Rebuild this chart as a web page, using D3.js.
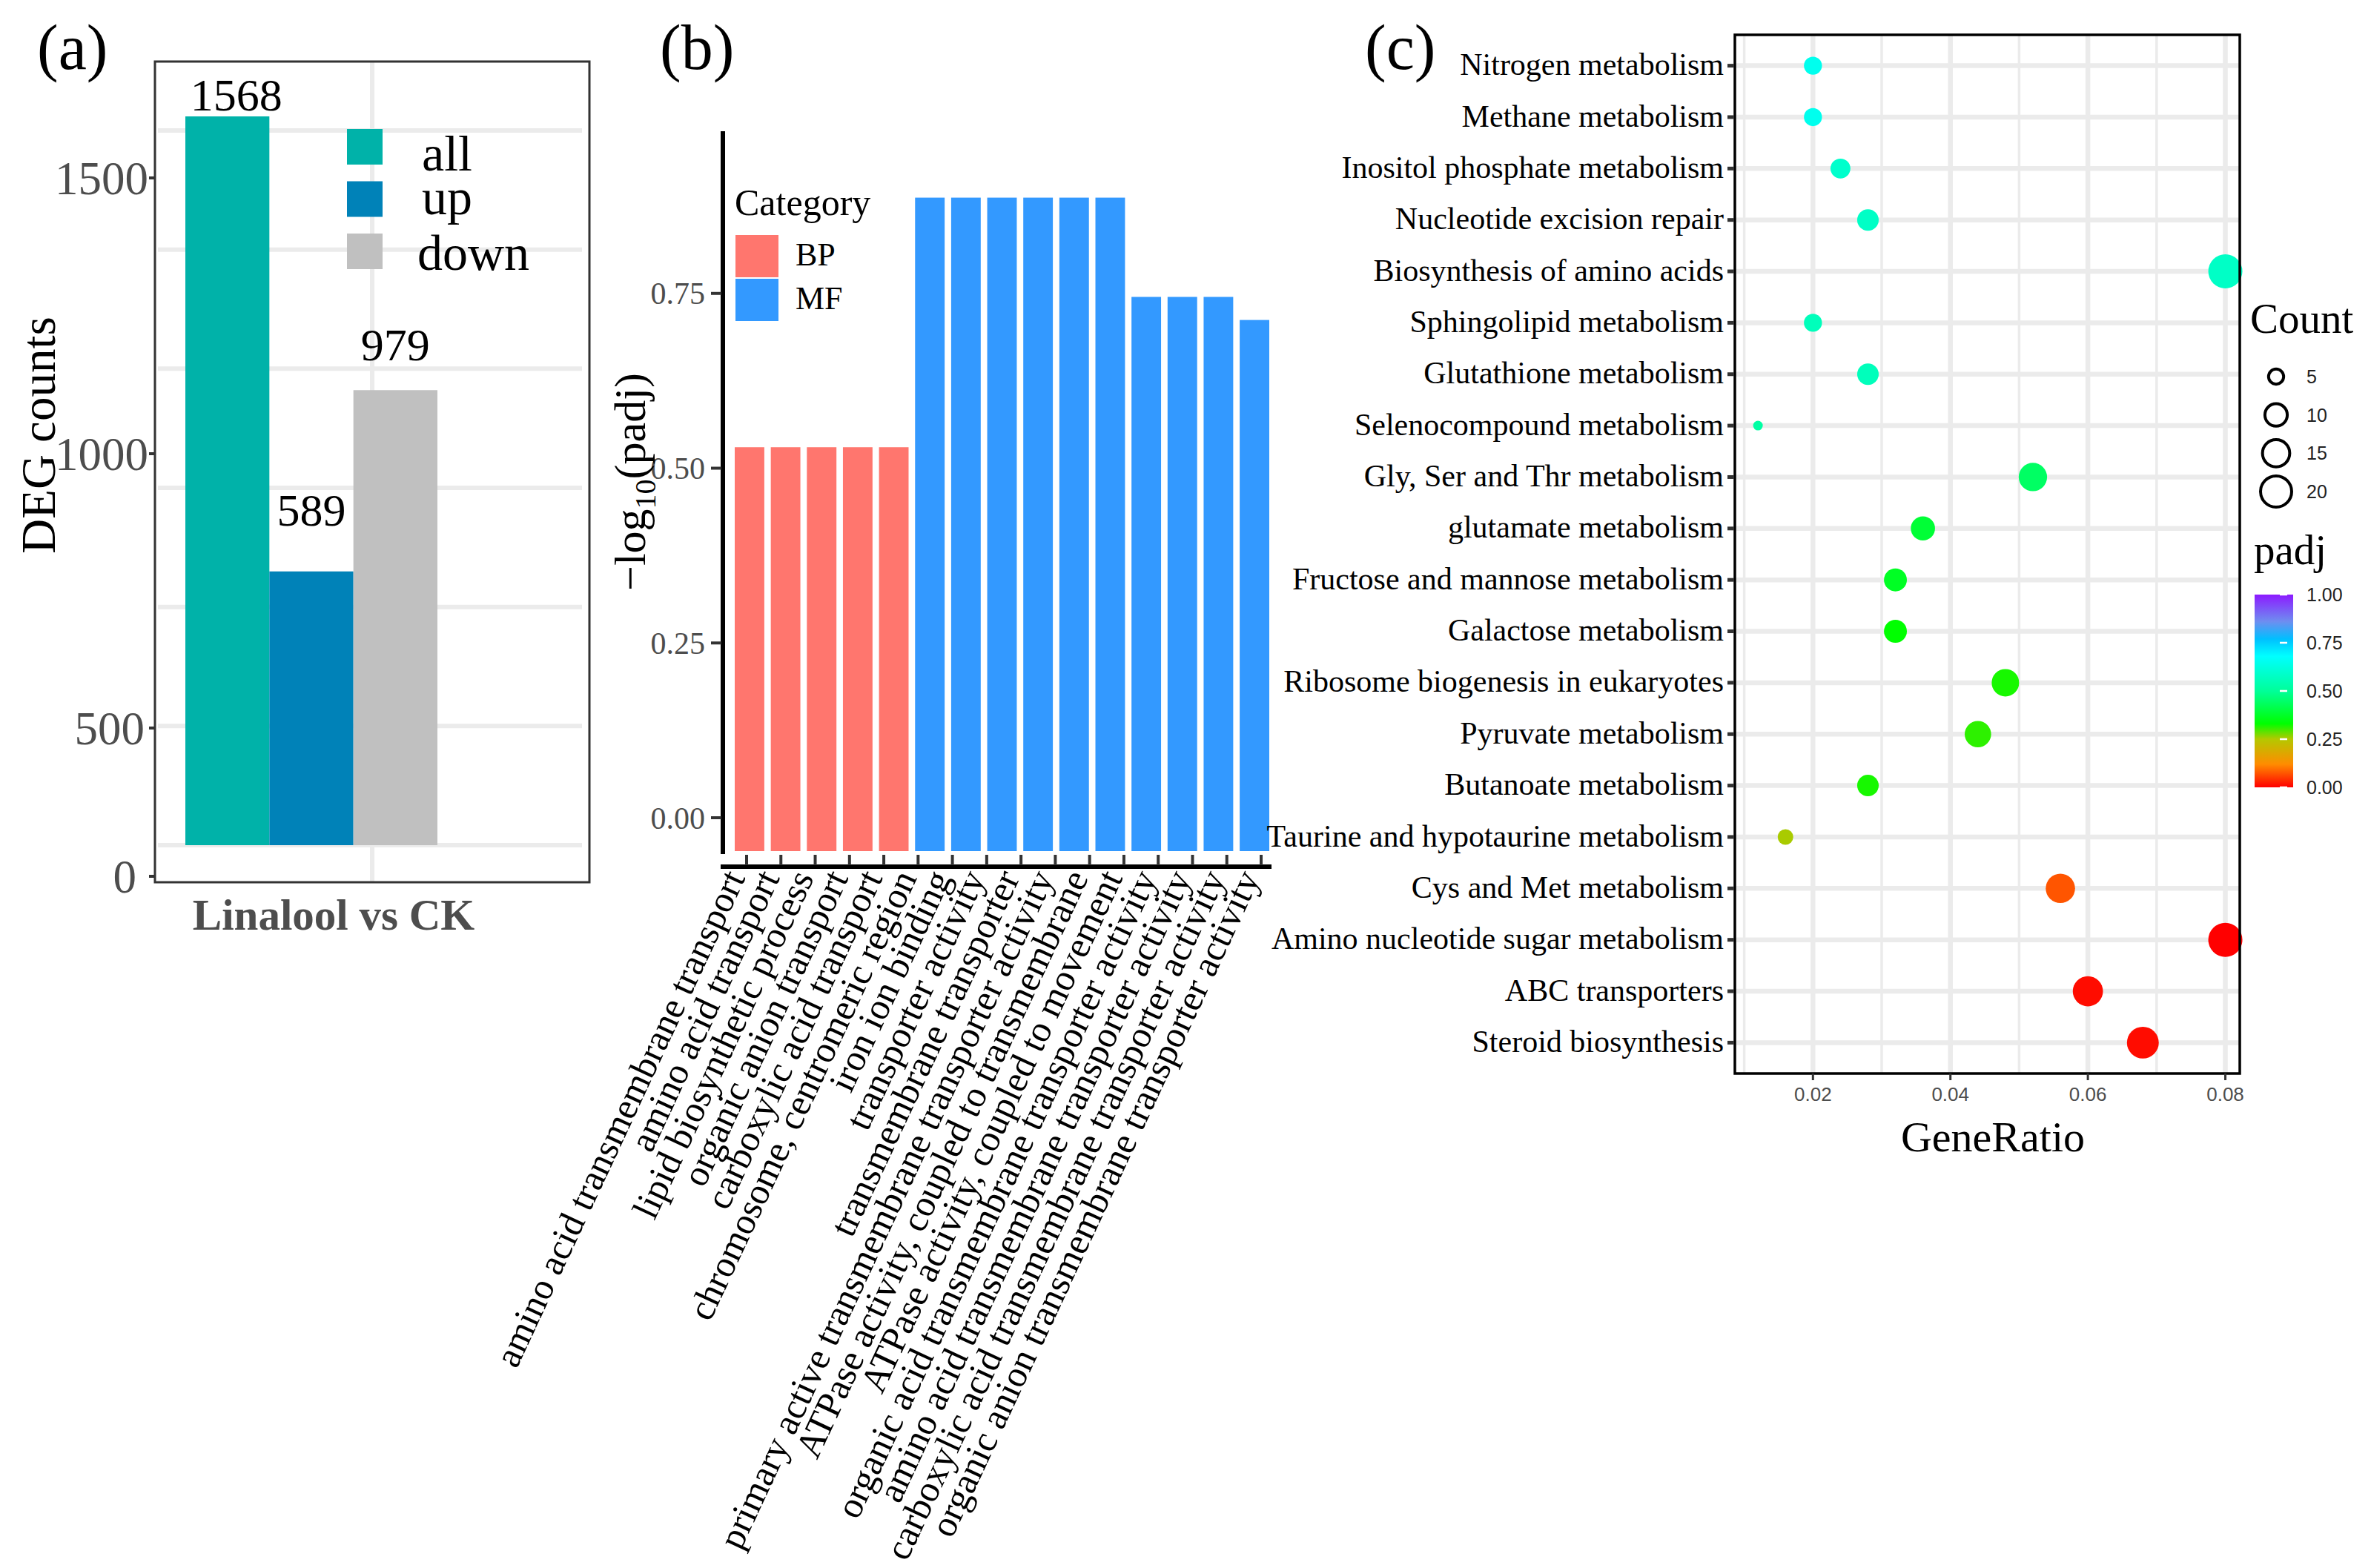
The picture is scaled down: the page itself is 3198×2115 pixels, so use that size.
<!DOCTYPE html>
<html><head><meta charset="utf-8">
<script src="https://cdn.jsdelivr.net/npm/d3@7/dist/d3.min.js"></script>
<style>html,body{margin:0;padding:0;background:#fff;} svg{display:block;}</style>
</head><body>
<svg id="chart" width="3198" height="2115"></svg>
<script>
// ================= DATA =================
// Panel (a)
const degGroups = ["all", "up", "down"];
const degCounts = [1568, 589, 979];
const degCategory = ["Linalool vs CK"];
const degTicks = [0, 500, 1000, 1500];

// Panel (b)
const goTerms = [
  "amino acid transmembrane transport",
  "amino acid transport",
  "lipid biosynthetic process",
  "organic anion transport",
  "carboxylic acid transport",
  "chromosome, centromeric region",
  "iron ion binding",
  "transporter activity",
  "transmembrane transporter",
  "primary active transmembrane transporter activity",
  "ATPase activity, coupled to transmembrane",
  "ATPase activity, coupled to movement",
  "organic acid transmembrane transporter activity",
  "amino acid transmembrane transporter activity",
  "carboxylic acid transmembrane transporter activity",
  "organic anion transmembrane transporter activity"
];
const goCategory = ["BP","BP","BP","BP","BP","", "MF","MF","MF","MF","MF","MF","MF","MF","MF","MF"];
const goValues = [0.53,0.53,0.53,0.53,0.53,null,0.887,0.887,0.887,0.887,0.887,0.887,0.745,0.745,0.745,0.712];
const goTicks = [0, 0.25, 0.5, 0.75];
const goLegend = ["BP", "MF"];

// Panel (c)
const keggPathways = [
  "Nitrogen metabolism","Methane metabolism","Inositol phosphate metabolism","Nucleotide excision repair",
  "Biosynthesis of amino acids","Sphingolipid metabolism","Glutathione metabolism","Selenocompound metabolism",
  "Gly, Ser and Thr metabolism","glutamate metabolism","Fructose and mannose metabolism","Galactose metabolism",
  "Ribosome biogenesis in eukaryotes","Pyruvate metabolism","Butanoate metabolism","Taurine and hypotaurine metabolism",
  "Cys and Met metabolism","Amino nucleotide sugar metabolism","ABC transporters","Steroid biosynthesis"
];
const keggGeneRatio = [0.020,0.020,0.024,0.028,0.080,0.020,0.028,0.012,0.052,0.036,0.032,0.032,0.048,0.044,0.028,0.016,0.056,0.080,0.060,0.068];
const keggCount =     [5,5,6,7,20,5,7,3,13,9,8,8,12,11,7,4,14,20,15,17];
const keggPadj =      [0.65,0.65,0.59,0.58,0.58,0.56,0.56,0.52,0.44,0.39,0.37,0.33,0.32,0.31,0.32,0.255,0.073,0.0,0.01,0.01];
const ratioTicks = [0.02, 0.04, 0.06, 0.08];
const ratioMinor = [0.01, 0.03, 0.05, 0.07];
const countLegend = [5, 10, 15, 20];
const padjTicks = [0, 0.25, 0.5, 0.75, 1];

// ================= STYLE =================
const SERIF = "'Liberation Serif','Times New Roman',serif";
const SANS = "'Liberation Sans',Arial,sans-serif";
const GRID = "#EBEBEB";
const AXIS_TXT = "#4D4D4D";
const degPalette = {all: "#00B2A9", up: "#0082B8", down: "#C0C0C0"};
const goPalette = {BP: "#FF766E", MF: "#3399FF"};
const padjStops = [[0,"#FF0000"],[0.12,"#FF8C00"],[0.25,"#B4C800"],[0.33,"#00FF00"],[0.5,"#00FF99"],[0.68,"#00FFFF"],[0.77,"#00BFFF"],[0.86,"#6E8EF0"],[1,"#8C1AFF"]];

const svg = d3.select("#chart");
svg.append("rect").attr("width",3198).attr("height",2115).attr("fill","#fff");

// panel tags
[["(a)",50],["(b)",890],["(c)",1841]].forEach(([t,x]) => {
  svg.append("text").attr("x",x).attr("y",93).attr("font-family",SERIF).attr("font-size",86).attr("fill","#000").text(t);
});

// ================= PANEL A =================
(function(){
  const g = svg.append("g");
  const frame = {x0:209, x1:795, y0:83, y1:1190};
  const gridY = d3.scaleLinear().domain([0,1500]).range([1140,176]);
  g.selectAll(".hg").data(d3.range(0,1501,250)).join("line")
    .attr("x1",213).attr("x2",785).attr("y1",d=>gridY(d)).attr("y2",d=>gridY(d))
    .attr("stroke",GRID).attr("stroke-width",6);
  const xCat = d3.scaleBand().domain(degCategory).range([frame.x0, frame.x1]);
  g.selectAll(".vg").data(degCategory).join("line")
    .attr("x1",d=>xCat(d)+xCat.bandwidth()/2).attr("x2",d=>xCat(d)+xCat.bandwidth()/2)
    .attr("y1",frame.y0).attr("y2",frame.y1).attr("stroke",GRID).attr("stroke-width",6);

  const xSub = d3.scaleBand().domain(degGroups).range([250,590]);
  const yBar = d3.scaleLinear().domain([0,1568]).range([1140,157]);
  const yLab = d3.scaleLinear().domain([589,1568]).range([709,149]);
  const data = degGroups.map((k,i)=>({k, v:degCounts[i]}));
  g.selectAll(".bar").data(data).join("rect")
    .attr("x",d=>xSub(d.k)).attr("width",xSub.bandwidth())
    .attr("y",d=>yBar(d.v)).attr("height",d=>yBar(0)-yBar(d.v))
    .attr("fill",d=>degPalette[d.k]);
  g.selectAll(".vlab").data(data).join("text")
    .attr("x",d=>xSub(d.k)+xSub.bandwidth()/2 + (d.k==="all"?12:0)).attr("y",d=>yLab(d.v))
    .attr("text-anchor","middle").attr("font-family",SERIF).attr("font-size",62).attr("fill","#000")
    .text(d=>d.v);

  g.append("rect").attr("x",frame.x0).attr("y",frame.y0).attr("width",frame.x1-frame.x0).attr("height",frame.y1-frame.y0)
    .attr("fill","none").attr("stroke","#333").attr("stroke-width",3);

  const yAx = d3.scaleLinear().domain(degTicks).range([1182,982,612,240]);
  g.selectAll(".tk").data(degTicks).join("line")
    .attr("x1",201).attr("x2",209).attr("y1",d=>yAx(d)).attr("y2",d=>yAx(d)).attr("stroke","#333").attr("stroke-width",4);
  g.selectAll(".tl").data(degTicks).join("text")
    .attr("x",d=>d===0?184:(d===500?195:200)).attr("y",d=>yAx(d)).attr("dy","0.35em").attr("text-anchor","end")
    .attr("font-family",SERIF).attr("font-size",63).attr("fill",AXIS_TXT).text(d=>d);

  g.append("text").attr("transform","translate(74,587) rotate(-90)").attr("text-anchor","middle")
    .attr("font-family",SERIF).attr("font-size",65).attr("fill","#000").text("DEG counts");
  g.selectAll(".xl").data(degCategory).join("text")
    .attr("x",d=>xCat(d)+xCat.bandwidth()/2-52).attr("y",1254).attr("text-anchor","middle")
    .attr("font-family",SERIF).attr("font-weight","bold").attr("font-size",59).attr("fill",AXIS_TXT).text(d=>d);

  // legend
  const yKey = d3.scalePoint().domain(degGroups).range([198,339]);
  g.selectAll(".lk").data(degGroups).join("rect")
    .attr("x",468).attr("y",d=>yKey(d)-24).attr("width",48).attr("height",48).attr("fill",d=>degPalette[d]);
  g.selectAll(".ll").data(degGroups).join("text")
    .attr("x",d=>d==="down"?563:569).attr("y",d=>yKey(d)+ (d==="all"?32:(d==="up"?20:25)))
    .attr("font-family",SERIF).attr("font-size",68).attr("fill","#000").text(d=>d);
})();

// ================= PANEL B =================
(function(){
  const g = svg.append("g");
  const y = d3.scaleLinear().domain([-0.0477,0.982]).range([1148,177]);
  const barTerms = goTerms.filter((t,i)=>goValues[i]!==null);
  const xBar = d3.scaleBand().domain(barTerms).range([991,1712]).paddingInner(0.18);
  const xTick = d3.scalePoint().domain(goTerms).range([1007,1701]);
  const data = goTerms.map((t,i)=>({t, c:goCategory[i], v:goValues[i]})).filter(d=>d.v!==null);
  g.selectAll(".bar").data(data).join("rect")
    .attr("x",d=>xBar(d.t)).attr("width",xBar.bandwidth())
    .attr("y",d=>y(d.v)).attr("height",d=>y.range()[0]-y(d.v))
    .attr("fill",d=>goPalette[d.c]);

  // axes lines
  g.append("line").attr("x1",975).attr("x2",975).attr("y1",177).attr("y2",1152).attr("stroke","#000").attr("stroke-width",6);
  g.append("line").attr("x1",972).attr("x2",1715).attr("y1",1169).attr("y2",1169).attr("stroke","#000").attr("stroke-width",6);
  g.selectAll(".yt").data(goTicks).join("line")
    .attr("x1",959).attr("x2",973).attr("y1",d=>y(d)).attr("y2",d=>y(d)).attr("stroke","#333").attr("stroke-width",4);
  g.selectAll(".ytl").data(goTicks).join("text")
    .attr("x",951).attr("y",d=>y(d)).attr("dy","0.35em").attr("text-anchor","end")
    .attr("font-family",SERIF).attr("font-size",42).attr("fill",AXIS_TXT).text(d=>d3.format(".2f")(d));
  g.selectAll(".xt").data(goTerms).join("line")
    .attr("x1",d=>xTick(d)).attr("x2",d=>xTick(d)).attr("y1",1153).attr("y2",1167).attr("stroke","#333").attr("stroke-width",4);
  g.selectAll(".xtl").data(goTerms).join("text")
    .attr("transform",d=>`translate(${xTick(d)-1},1184) rotate(-65)`)
    .attr("text-anchor","end").attr("font-family",SERIF).attr("font-size",50).attr("fill","#000").text(d=>d);

  const yt = g.append("text").attr("transform","translate(870,650) rotate(-90)").attr("text-anchor","middle")
    .attr("font-family",SERIF).attr("font-size",60).attr("fill","#000");
  yt.append("tspan").text("\u2212log");
  yt.append("tspan").attr("font-size",40).attr("dy",14).text("10");
  yt.append("tspan").attr("dy",-14).text("(padj)");

  // legend
  g.append("text").attr("x",991).attr("y",290).attr("font-family",SERIF).attr("font-size",50).attr("fill","#000").text("Category");
  const yk = d3.scalePoint().domain(goLegend).range([346,405]);
  g.selectAll(".lk").data(goLegend).join("rect")
    .attr("x",992).attr("y",d=>yk(d)-29).attr("width",58).attr("height",57).attr("fill",d=>goPalette[d]);
  g.selectAll(".ll").data(goLegend).join("text")
    .attr("x",1073).attr("y",d=>yk(d)+12).attr("font-family",SERIF).attr("font-size",44).attr("fill","#000").text(d=>d);
})();

// ================= PANEL C =================
(function(){
  const g = svg.append("g");
  const fr = {x0:2340, x1:3021, y0:47, y1:1448};
  const x = d3.scaleLinear().domain([0.00864,0.0821]).range([fr.x0, fr.x1]);
  const y = d3.scalePoint().domain(keggPathways).range([fr.y0, fr.y1]).padding(0.6);
  const cMin = d3.min(keggCount), cMax = d3.max(keggCount);
  const rLin = d3.scaleLinear().domain([0,1]).range([6.5,23]);
  const r = c => rLin(Math.sqrt((c-cMin)/(cMax-cMin)));
  const color = d3.scaleLinear().domain(padjStops.map(s=>s[0])).range(padjStops.map(s=>s[1])).interpolate(d3.interpolateRgb);

  g.selectAll(".mg").data(ratioMinor).join("line")
    .attr("x1",d=>x(d)).attr("x2",d=>x(d)).attr("y1",fr.y0).attr("y2",fr.y1).attr("stroke",GRID).attr("stroke-width",3.5);
  g.selectAll(".Mg").data(ratioTicks).join("line")
    .attr("x1",d=>x(d)).attr("x2",d=>x(d)).attr("y1",fr.y0).attr("y2",fr.y1).attr("stroke",GRID).attr("stroke-width",6.5);
  g.selectAll(".hg").data(keggPathways).join("line")
    .attr("x1",fr.x0).attr("x2",fr.x1).attr("y1",d=>y(d)).attr("y2",d=>y(d)).attr("stroke",GRID).attr("stroke-width",6.5);

  const data = keggPathways.map((p,i)=>({p, gr:keggGeneRatio[i], c:keggCount[i], q:keggPadj[i]}));
  g.selectAll(".dot").data(data).join("circle")
    .attr("cx",d=>x(d.gr)).attr("cy",d=>y(d.p)).attr("r",d=>r(d.c)).attr("fill",d=>color(d.q));

  g.append("rect").attr("x",fr.x0).attr("y",fr.y0).attr("width",fr.x1-fr.x0).attr("height",fr.y1-fr.y0)
    .attr("fill","none").attr("stroke","#000").attr("stroke-width",3.5);

  g.selectAll(".yt").data(keggPathways).join("line")
    .attr("x1",2330).attr("x2",2339).attr("y1",d=>y(d)).attr("y2",d=>y(d)).attr("stroke","#333").attr("stroke-width",5);
  g.selectAll(".ytl").data(keggPathways).join("text")
    .attr("x",2325).attr("y",d=>y(d)).attr("dy","0.3em").attr("text-anchor","end")
    .attr("font-family",SERIF).attr("font-size",42).attr("fill","#000").text(d=>d);
  g.selectAll(".xt").data(ratioTicks).join("line")
    .attr("x1",d=>x(d)).attr("x2",d=>x(d)).attr("y1",fr.y1).attr("y2",fr.y1+9).attr("stroke","#333").attr("stroke-width",3);
  g.selectAll(".xtl").data(ratioTicks).join("text")
    .attr("x",d=>x(d)).attr("y",1485).attr("text-anchor","middle")
    .attr("font-family",SANS).attr("font-size",26).attr("fill",AXIS_TXT).text(d=>d3.format(".2f")(d));
  g.append("text").attr("x",2688).attr("y",1553).attr("text-anchor","middle")
    .attr("font-family",SERIF).attr("font-size",58).attr("fill","#000").text("GeneRatio");

  // Count legend
  g.append("text").attr("x",3035).attr("y",449).attr("font-family",SERIF).attr("font-size",57).attr("fill","#000").text("Count");
  const yc = d3.scalePoint().domain(countLegend).range([508,663]);
  g.selectAll(".lc").data(countLegend).join("circle")
    .attr("cx",3070).attr("cy",d=>yc(d)).attr("r",d=>r(d)-2).attr("fill","none").attr("stroke","#000").attr("stroke-width",4);
  g.selectAll(".lcl").data(countLegend).join("text")
    .attr("x",3111).attr("y",d=>yc(d)).attr("dy","0.36em")
    .attr("font-family",SANS).attr("font-size",25).attr("fill","#222").text(d=>d);

  // padj legend
  g.append("text").attr("x",3040).attr("y",761).attr("font-family",SERIF).attr("font-size",57).attr("fill","#000").text("padj");
  const defs = svg.append("defs");
  const grad = defs.append("linearGradient").attr("id","padjGrad").attr("x1",0).attr("y1",1).attr("x2",0).attr("y2",0);
  grad.selectAll("stop").data(padjStops).join("stop").attr("offset",d=>d[0]).attr("stop-color",d=>d[1]);
  const yp = d3.scaleLinear().domain([0,1]).range([1062,802]);
  g.append("rect").attr("x",3041).attr("y",yp(1)).attr("width",52).attr("height",yp(0)-yp(1)).attr("fill","url(#padjGrad)");
  g.selectAll(".pt").data(padjTicks).join("line")
    .attr("x1",3075).attr("x2",3085).attr("y1",d=>yp(d)).attr("y2",d=>yp(d)).attr("stroke","#fff").attr("stroke-width",2.5);
  g.selectAll(".ptl").data(padjTicks).join("text")
    .attr("x",3111).attr("y",d=>yp(d)).attr("dy","0.36em")
    .attr("font-family",SANS).attr("font-size",25).attr("fill","#222").text(d=>d3.format(".2f")(d));
})();
</script>
</body></html>
